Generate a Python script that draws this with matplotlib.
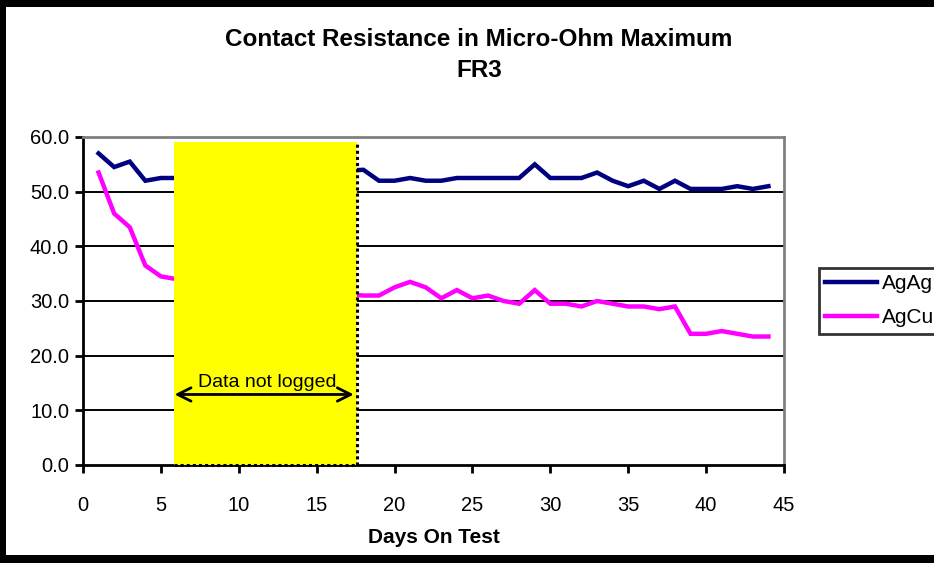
import matplotlib
matplotlib.use("Agg")
import matplotlib.pyplot as plt
from matplotlib.patches import Rectangle

plt.rcParams['font.family'] = ['Liberation Sans', 'DejaVu Sans']

# days with readings (days 7-17 were not logged)
days = [1, 2, 3, 4, 5, 6,
        18, 19, 20, 21, 22, 23, 24, 25, 26, 27, 28, 29, 30, 31, 32,
        33, 34, 35, 36, 37, 38, 39, 40, 41, 42, 43, 44]
agag = [57, 54.5, 55.5, 52, 52.5, 52.5,
        54, 52, 52, 52.5, 52, 52, 52.5, 52.5, 52.5, 52.5, 52.5, 55, 52.5, 52.5, 52.5,
        53.5, 52, 51, 52, 50.5, 52, 50.5, 50.5, 50.5, 51, 50.5, 51]
agcu = [53.5, 46, 43.5, 36.5, 34.5, 34,
        31, 31, 32.5, 33.5, 32.5, 30.5, 32, 30.5, 31, 30, 29.5, 32, 29.5, 29.5, 29,
        30, 29.5, 29, 29, 28.5, 29, 24, 24, 24.5, 24, 23.5, 23.5]

gap_start, gap_end, gap_top = 5.83, 17.56, 59.0
arrow_y = 12.9

fig = plt.figure(figsize=(9.34, 5.63), dpi=100, facecolor='black')
# white page inside the black frame
fig.patches.append(Rectangle((6 / 934, 8 / 563), 1, 548 / 563, transform=fig.transFigure,
                             facecolor='white', edgecolor='none', zorder=-10))

ax = fig.add_axes([83 / 934, 98 / 563, 701 / 934, 328 / 563])
ax.set_zorder(1)
ax.set_facecolor('white')

ax.plot(days, agag, color='#000080', linewidth=3.2, label='AgAg', zorder=3, solid_joinstyle='miter')
ax.plot(days, agcu, color='#FF00FF', linewidth=3.2, label='AgCu', zorder=3, solid_joinstyle='miter')

# yellow "not logged" block, dotted edge on right and bottom
ax.add_patch(Rectangle((gap_start, 0), gap_end - gap_start, gap_top,
                       facecolor='#FFFF00', edgecolor='none', zorder=4))
ax.plot([gap_end, gap_end], [0, gap_top], color='black', linestyle=(0, (1, 1)), linewidth=2.2, zorder=5)
ax.plot([gap_start, gap_end], [0, 0], color='black', linestyle=(0, (1, 1)), linewidth=2.2, zorder=6, clip_on=False)

ax.annotate('', xy=(5.7, arrow_y), xytext=(gap_end, arrow_y),
            arrowprops=dict(arrowstyle='<->', color='black', lw=2, mutation_scale=24), zorder=6)
ax.text(11.8, arrow_y + 0.7, 'Data not logged', ha='center', va='bottom', fontsize=14, zorder=6)

ax.set_xlim(0, 45)
ax.set_ylim(0, 60)
ax.set_xticks(range(0, 46, 5))
ax.set_yticks(range(0, 61, 10))
ax.set_yticklabels([f"{v:.1f}" for v in range(0, 61, 10)])
ax.tick_params(axis='both', labelsize=14.5, width=2, length=6, direction='out', colors='black')
ax.tick_params(axis='x', pad=16)
ax.tick_params(axis='y', pad=4)

for y in range(10, 60, 10):
    ax.axhline(y, color='black', linewidth=1.4, zorder=1)

ax.spines['left'].set_linewidth(2)
ax.spines['bottom'].set_linewidth(2)
ax.spines['top'].set_color('#808080')
ax.spines['right'].set_color('#808080')
ax.spines['top'].set_linewidth(2)
ax.spines['right'].set_linewidth(2)

ax.set_xlabel('Days On Test', fontsize=15, fontweight='bold', labelpad=10)

fig.text(479 / 934, 1 - 55 / 563, 'Contact Resistance in Micro-Ohm Maximum\nFR3',
         ha='center', va='center', fontsize=17.5, fontweight='bold', linespacing=1.4)

leg = fig.legend(loc='upper left', bbox_to_anchor=(819 / 934, 1 - 268 / 563), fontsize=15,
                 frameon=True, fancybox=False, edgecolor='black', handlelength=2.5,
                 handletextpad=0.2, borderpad=0.3, labelspacing=0.72, borderaxespad=0)
leg.get_frame().set_linewidth(2)

fig.savefig('out.png', dpi=100, facecolor='black')
